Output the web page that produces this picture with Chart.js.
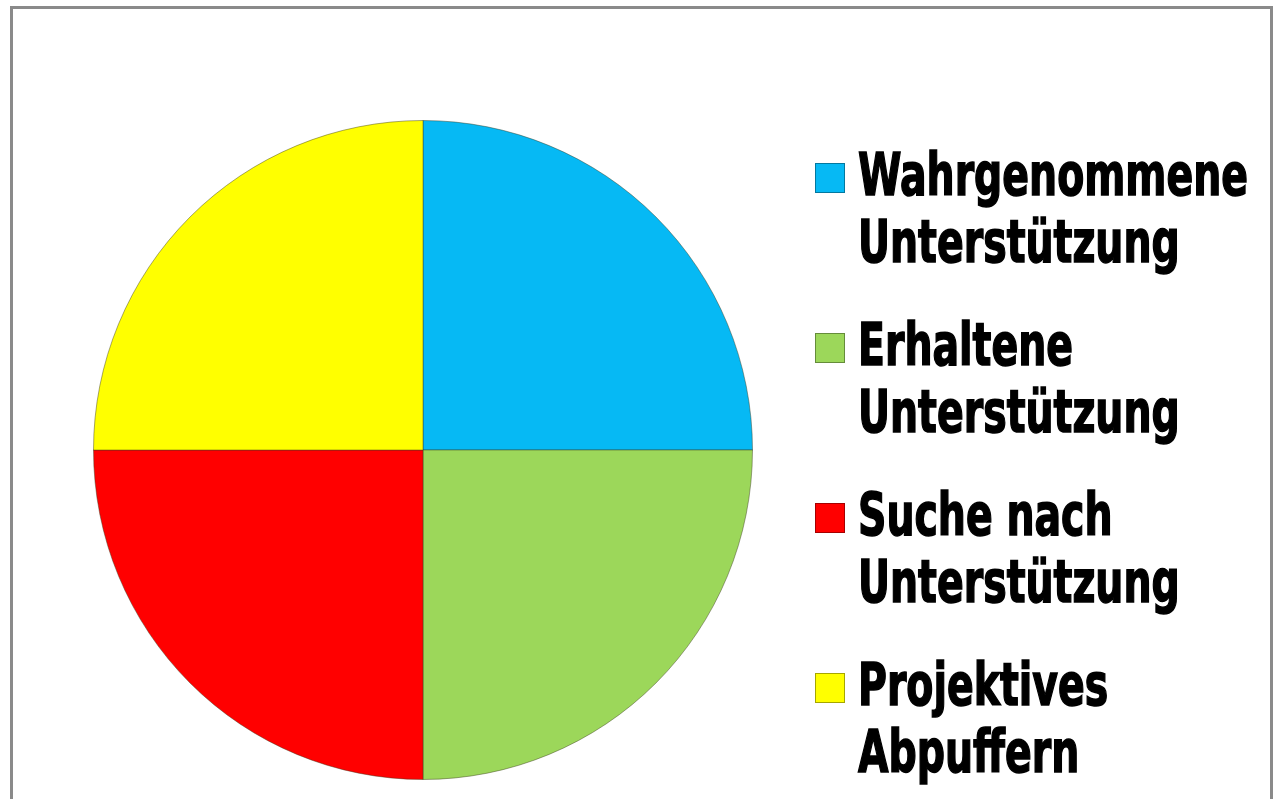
<!DOCTYPE html>
<html>
<head>
<meta charset="utf-8">
<script src="https://cdn.jsdelivr.net/npm/chart.js@4/dist/chart.umd.min.js"></script>
<style>
  html, body { margin: 0; padding: 0; background: #ffffff; }
  #wrap { width: 1280px; height: 799px; position: relative; }
</style>
</head>
<body>
<div id="wrap"><canvas id="pieChart" width="1280" height="799"></canvas></div>
<script>
// Chart data
const categories = [
  ["Wahrgenommene", "Unterstützung"],
  ["Erhaltene", "Unterstützung"],
  ["Suche nach", "Unterstützung"],
  ["Projektives", "Abpuffern"]
];
const shares = [25, 25, 25, 25];
const sliceColors = ["#06B9F4", "#9CD75A", "#FF0000", "#FFFF00"];

// Frame around the chart plus the legend on the right
const framePlugin = {
  id: "frame",
  beforeDraw(chart) {
    const ctx = chart.ctx;
    ctx.save();
    ctx.strokeStyle = "#8a8a8a";
    ctx.lineWidth = 3;
    ctx.strokeRect(11.5, 7.5, 1260, 820);
    ctx.restore();
  },
  afterDraw(chart) {
    const ctx = chart.ctx;
    const labels = chart.data.labels;
    const colors = chart.data.datasets[0].backgroundColor;
    ctx.save();
    ctx.font = 'bold 58px "DejaVu Sans Condensed", "DejaVu Sans", sans-serif';
    ctx.textBaseline = "alphabetic";
    // squeeze text so it looks like a narrow heavy face
    const sx = 390 / ctx.measureText(labels[0][0]).width;
    labels.forEach(function (lines, i) {
      const baseY = 195 + i * 170;
      // legend box
      const bx = 815, by = baseY - 32;
      ctx.fillStyle = colors[i];
      ctx.fillRect(bx, by, 30, 30);
      ctx.strokeStyle = "rgba(0,0,0,0.35)";
      ctx.lineWidth = 1;
      ctx.strokeRect(bx + 0.5, by + 0.5, 29, 29);
      // label lines
      ctx.fillStyle = "#000000";
      lines.forEach(function (line, j) {
        ctx.save();
        ctx.translate(858, baseY + j * 67);
        ctx.scale(sx, 1);
        ctx.fillText(line, 0, 0);
        ctx.strokeStyle = "#000000";
        ctx.lineWidth = 1.5;
        ctx.strokeText(line, 0, 0);
        ctx.restore();
      });
    });
    ctx.restore();
  }
};

new Chart(document.getElementById("pieChart").getContext("2d"), {
  type: "pie",
  data: {
    labels: categories,
    datasets: [{
      data: shares,
      backgroundColor: sliceColors,
      borderColor: "rgba(60,60,30,0.45)",
      borderWidth: 1
    }]
  },
  options: {
    responsive: false,
    animation: false,
    layout: {
      padding: { left: 93, right: 527, top: 120, bottom: 19 }
    },
    plugins: {
      legend: { display: false },
      tooltip: { enabled: false }
    }
  },
  plugins: [framePlugin]
});
</script>
</body>
</html>
